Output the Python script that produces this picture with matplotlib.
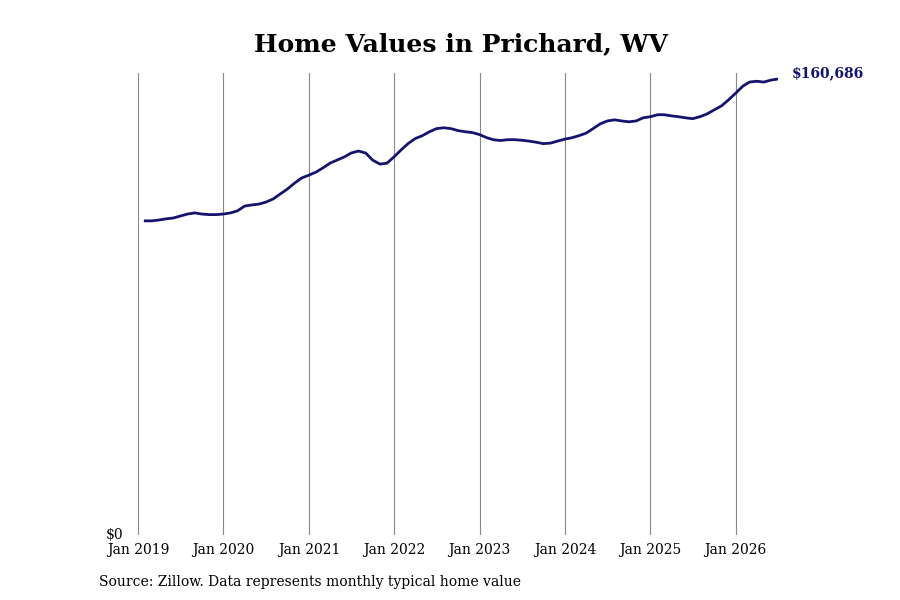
import matplotlib
matplotlib.use("Agg")
import matplotlib.pyplot as plt
import pandas as pd

plt.rcParams['font.family'] = 'DejaVu Serif'

# monthly typical home value, Feb 2019 - Jul 2026
dates = pd.date_range("2019-02-01", "2026-07-01", freq="MS")
values = [
    110700, 111000, 111400, 111700, 112400, 113100, 113500, 113100, 112900, 112900, 113100,
    113500, 114200, 115900, 116300, 116600, 117300, 118400, 120200, 121900, 124000, 125800,
    126800, 127900, 129300, 131000, 132100, 133200, 134600, 135300, 134600, 132100, 130700, 131000,
    133300, 135800, 137900, 139700, 140700, 142100, 143200, 143500, 143200, 142500, 142100, 141800,
    141100, 140000, 139300, 139000, 139300, 139300, 139100, 138800, 138400, 137900, 138100, 138800,
    139500, 140000, 140700, 141600, 143200, 144900, 145900, 146300, 145900, 145600, 145900, 147000,
    147400, 148100, 148100, 147700, 147400, 147000, 146700, 147400, 148400, 149800, 151200, 153300,
    155700, 158200, 159600, 159900, 159600, 160300, 160686,
]
values = values[:1] + values  # pad start to Feb 2019
values = values[:len(dates)]

fig = plt.figure(figsize=(9, 6), dpi=100)
ax = fig.add_axes([138/900, 65/600, 640/900, 462/600])
ax.plot(dates, values, color="#14146e", linewidth=2)
ax.set_xlim(pd.Timestamp("2019-01-01"), pd.Timestamp("2026-07-01"))
ax.set_ylim(0, 162800)

years = pd.date_range("2019-01-01", "2026-01-01", freq="YS")
ax.set_xticks(years)
ax.set_xticklabels([d.strftime("Jan %Y") for d in years], fontsize=10)
ax.set_yticks([])
ax.tick_params(axis="x", length=0, pad=6)
for d in years:
    ax.axvline(d, color="#888888", linewidth=0.8, zorder=0)
for s in ax.spines.values():
    s.set_visible(False)

ax.text(-0.05, 0, "$0", transform=ax.transAxes, ha="left", va="center", fontsize=10)
ax.annotate(f"${values[-1]:,}", (dates[-1], values[-1]), xytext=(10, 4),
            textcoords="offset points", color="#14146e", fontweight="bold",
            fontsize=10, va="center")

fig.text(0.512, 0.927, "Home Values in Prichard, WV", ha="center", va="center",
         fontsize=18, fontweight="bold")
fig.text(0.11, 0.03, "Source: Zillow. Data represents monthly typical home value",
         ha="left", va="center", fontsize=10)

fig.savefig("out.png", dpi=100)
